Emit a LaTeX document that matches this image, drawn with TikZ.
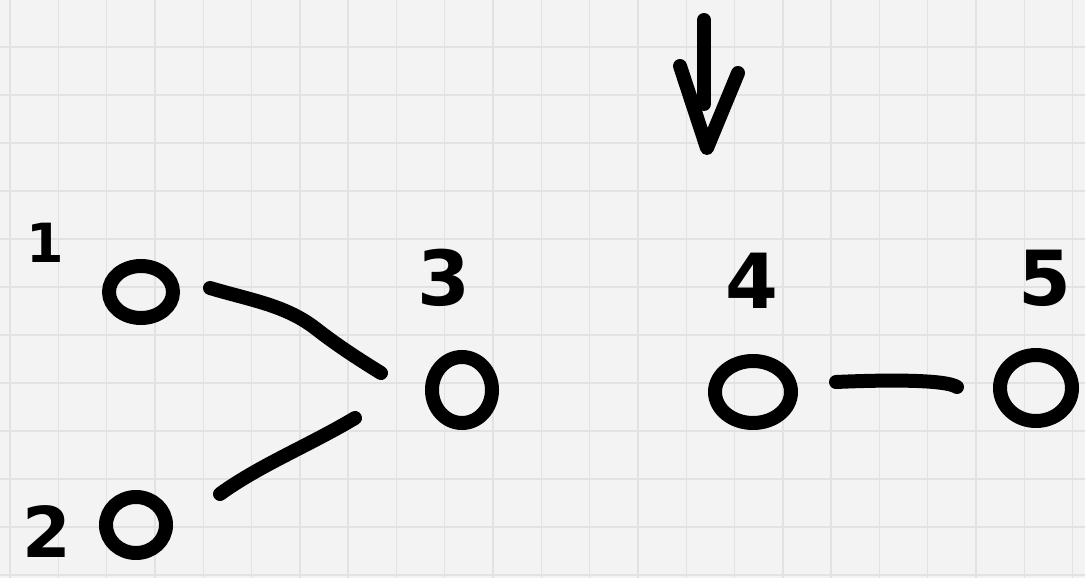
\documentclass[tikz,border=0pt]{standalone}
\usepackage{fontspec}
\setmainfont{DejaVu Sans}
\usetikzlibrary{shapes.geometric}
\definecolor{paper}{HTML}{F3F3F3}
\definecolor{gridc}{HTML}{E2E2E2}
\tikzset{
  ink/.style={line width=14pt, line cap=round, line join=round, black},
  vert/.style={ellipse, draw, line width=14pt, inner sep=0pt, black},
  lbl/.style={inner sep=0pt, font=\bfseries\fontsize{76}{76}\selectfont},
  edge/.style={ink},
}
\begin{document}
\begin{tikzpicture}[x=1pt,y=-1pt]
\fill[paper] (0,0) rectangle (1085,578);
\useasboundingbox (0,0) rectangle (1085,578);
\foreach \i in {0,...,22} \draw[gridc, line width=1.4pt] ({10+48.3*\i},0) -- ({10+48.3*\i},578);
\foreach \j in {0,...,12} \draw[gridc, line width=1.4pt] (0,{-1+48*\j}) -- (1085,{-1+48*\j});

% vertices
\node[vert, minimum width=64pt, minimum height=52pt] (n1) at (141,292) {};
\node[vert, minimum width=60pt, minimum height=56pt] (n2) at (136,525) {};
\node[vert, minimum width=60pt, minimum height=66pt] (n3) at (462,390) {};
\node[vert, minimum width=76pt, minimum height=62pt] (n4) at (753,392) {};
\node[vert, minimum width=72pt, minimum height=66pt] (n5) at (1036,388) {};

% labels
\node[lbl, font=\bfseries\fontsize{54}{54}\selectfont] (l1) at (45,243) {1};
\node[lbl, font=\bfseries\fontsize{70}{70}\selectfont] (l2) at (47,532) {2};
\node[lbl] (l3) at (444,278) {3};
\node[lbl] (l4) at (752,281) {4};
\node[lbl] (l5) at (1045,278) {5};

% edges
\draw[edge] ([xshift=30pt,yshift=4pt]n1.east) .. controls (250,300) and (285,305) .. (315,328)
  .. controls (338,346) and (360,360) .. ([xshift=-44pt,yshift=17pt]n3.west);
\draw[edge] ([xshift=47pt,yshift=31pt]n2.east) .. controls (260,465) and (310,445) .. ([xshift=-70pt,yshift=-28pt]n3.west);
\draw[edge] ([xshift=38pt,yshift=10pt]n4.east) .. controls (880,380) and (945,379) .. ([xshift=-36pt,yshift=1pt]n5.west);

% arrow
\draw[ink] (704,20) -- (704,104);
\draw[ink] (680,66) -- (707,148) -- (738,73);
\end{tikzpicture}
\end{document}
